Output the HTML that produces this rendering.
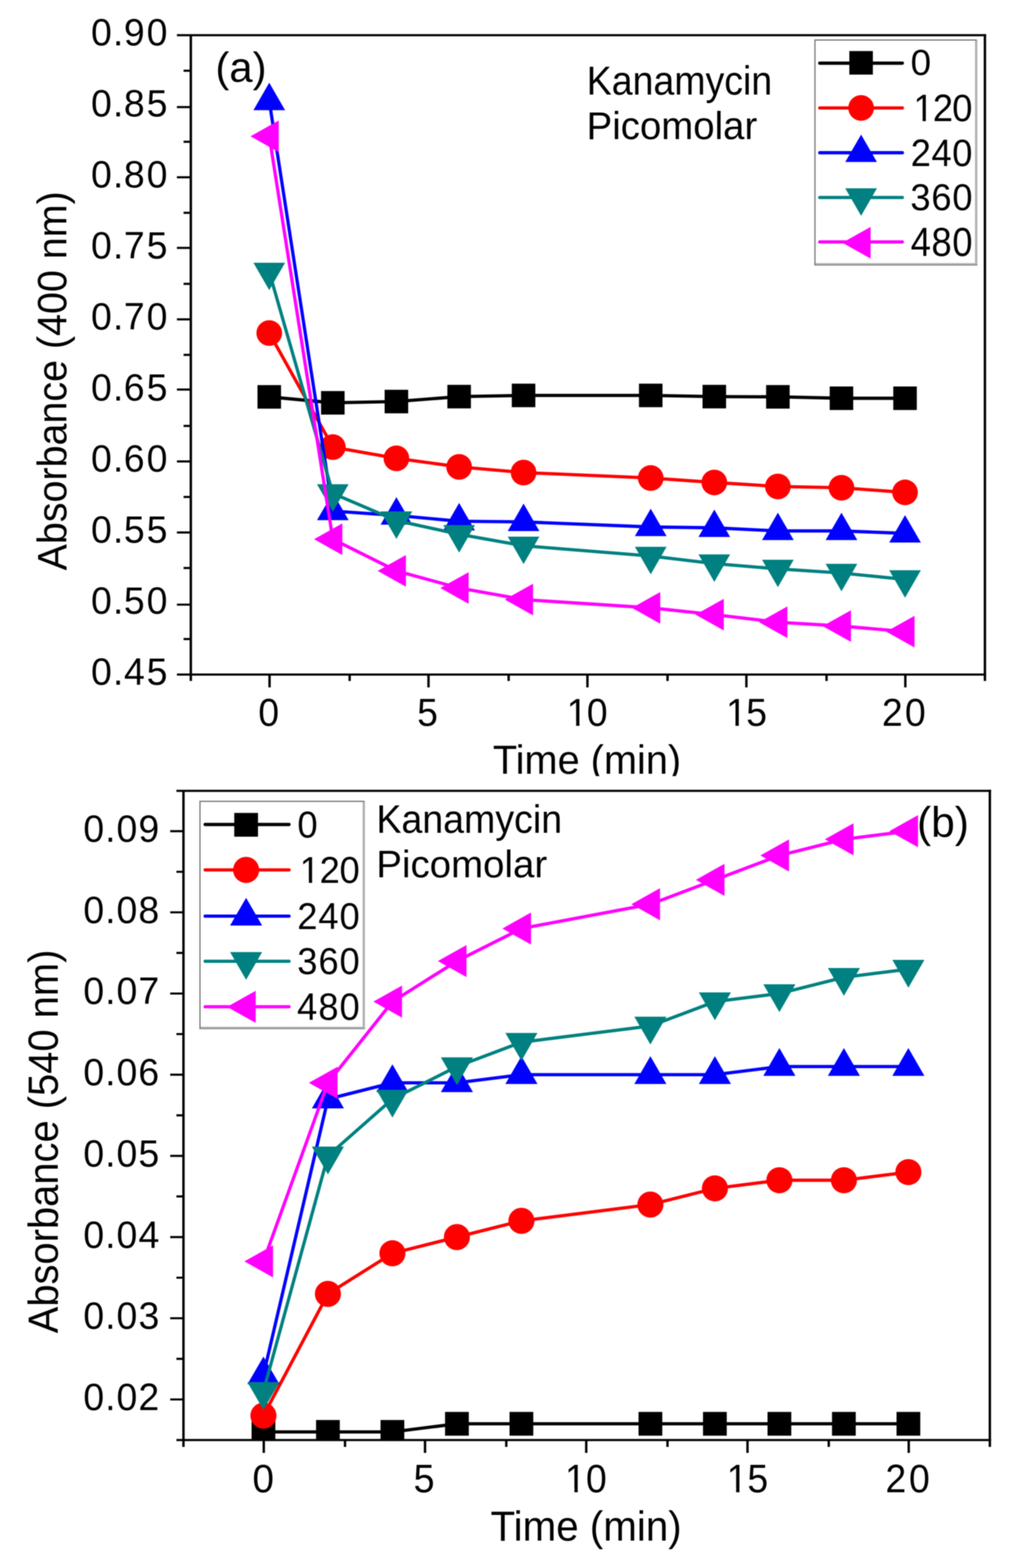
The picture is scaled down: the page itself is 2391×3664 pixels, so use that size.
<!DOCTYPE html>
<html lang="en">
<head>
<meta charset="utf-8">
<title>Kanamycin absorbance vs time</title>
<style>
html,body{margin:0;padding:0;background:#fff;}
body{width:2391px;height:3664px;}
svg{display:block;}
text{font-family:"Liberation Sans",sans-serif;font-size:100px;fill:#000;white-space:pre;}
</style>
</head>
<body>
<svg width="2391" height="3664" viewBox="0 0 2391 3664">
<defs><filter id="soft" filterUnits="userSpaceOnUse" x="0" y="0" width="2391" height="3664" color-interpolation-filters="sRGB"><feGaussianBlur stdDeviation="1.2"/></filter></defs>
<g filter="url(#soft)">
<rect x="-20" y="-20" width="2431" height="3704" fill="#fff"/>
<g id="panel-a">
<clipPath id="clipa"><rect x="446" y="82.2" width="1856" height="1494.0"/></clipPath>
<g clip-path="url(#clipa)">
<polyline fill="none" stroke="#000000" stroke-width="7.6" stroke-linejoin="round" points="629.3,927.4 777.9,941.3 926.5,938.3 1073.1,926.8 1223.7,924.0 1520.9,924.0 1669.5,926.8 1818.1,927.3 1966.7,930.6 2115.3,930.6"/>
<rect x="601.8" y="899.9" width="55.0" height="55.0" fill="#000000"/>
<rect x="750.4" y="913.8" width="55.0" height="55.0" fill="#000000"/>
<rect x="899.0" y="910.8" width="55.0" height="55.0" fill="#000000"/>
<rect x="1045.6" y="899.3" width="55.0" height="55.0" fill="#000000"/>
<rect x="1196.2" y="896.5" width="55.0" height="55.0" fill="#000000"/>
<rect x="1493.4" y="896.5" width="55.0" height="55.0" fill="#000000"/>
<rect x="1642.0" y="899.3" width="55.0" height="55.0" fill="#000000"/>
<rect x="1790.6" y="899.8" width="55.0" height="55.0" fill="#000000"/>
<rect x="1939.2" y="903.1" width="55.0" height="55.0" fill="#000000"/>
<rect x="2087.8" y="903.1" width="55.0" height="55.0" fill="#000000"/>
<polyline fill="none" stroke="#ff0000" stroke-width="7.6" stroke-linejoin="round" points="629.3,778.2 777.9,1044.7 926.5,1071.0 1073.1,1091.0 1223.7,1104.2 1520.9,1117.0 1669.5,1127.4 1818.1,1136.7 1966.7,1139.8 2115.3,1150.6"/>
<circle cx="629.3" cy="778.2" r="30.0" fill="#ff0000"/>
<circle cx="777.9" cy="1044.7" r="30.0" fill="#ff0000"/>
<circle cx="926.5" cy="1071.0" r="30.0" fill="#ff0000"/>
<circle cx="1073.1" cy="1091.0" r="30.0" fill="#ff0000"/>
<circle cx="1223.7" cy="1104.2" r="30.0" fill="#ff0000"/>
<circle cx="1520.9" cy="1117.0" r="30.0" fill="#ff0000"/>
<circle cx="1669.5" cy="1127.4" r="30.0" fill="#ff0000"/>
<circle cx="1818.1" cy="1136.7" r="30.0" fill="#ff0000"/>
<circle cx="1966.7" cy="1139.8" r="30.0" fill="#ff0000"/>
<circle cx="2115.3" cy="1150.6" r="30.0" fill="#ff0000"/>
<polyline fill="none" stroke="#0000ff" stroke-width="7.6" stroke-linejoin="round" points="629.3,236.0 777.9,1194.2 926.5,1204.5 1073.1,1218.0 1223.7,1219.5 1520.9,1231.4 1669.5,1233.4 1818.1,1240.6 1966.7,1240.6 2115.3,1246.4"/>
<polygon points="629.3,193.3 592.3,257.4 666.3,257.4" fill="#0000ff"/>
<polygon points="777.9,1151.5 740.9,1215.6 814.9,1215.6" fill="#0000ff"/>
<polygon points="926.5,1161.8 889.5,1225.9 963.5,1225.9" fill="#0000ff"/>
<polygon points="1073.1,1175.3 1036.1,1239.4 1110.1,1239.4" fill="#0000ff"/>
<polygon points="1223.7,1176.8 1186.7,1240.9 1260.7,1240.9" fill="#0000ff"/>
<polygon points="1520.9,1188.7 1483.9,1252.8 1557.9,1252.8" fill="#0000ff"/>
<polygon points="1669.5,1190.7 1632.5,1254.8 1706.5,1254.8" fill="#0000ff"/>
<polygon points="1818.1,1197.9 1781.1,1262.0 1855.1,1262.0" fill="#0000ff"/>
<polygon points="1966.7,1197.9 1929.7,1262.0 2003.7,1262.0" fill="#0000ff"/>
<polygon points="2115.3,1203.7 2078.3,1267.8 2152.3,1267.8" fill="#0000ff"/>
<polyline fill="none" stroke="#008080" stroke-width="7.6" stroke-linejoin="round" points="629.3,635.3 777.9,1153.0 926.5,1216.5 1073.1,1248.5 1223.7,1275.3 1520.9,1299.2 1669.5,1317.0 1818.1,1329.3 1966.7,1339.0 2115.3,1354.0"/>
<polygon points="629.3,678.0 592.3,613.9 666.3,613.9" fill="#008080"/>
<polygon points="777.9,1195.7 740.9,1131.6 814.9,1131.6" fill="#008080"/>
<polygon points="926.5,1259.2 889.5,1195.1 963.5,1195.1" fill="#008080"/>
<polygon points="1073.1,1291.2 1036.1,1227.1 1110.1,1227.1" fill="#008080"/>
<polygon points="1223.7,1318.0 1186.7,1253.9 1260.7,1253.9" fill="#008080"/>
<polygon points="1520.9,1341.9 1483.9,1277.8 1557.9,1277.8" fill="#008080"/>
<polygon points="1669.5,1359.7 1632.5,1295.6 1706.5,1295.6" fill="#008080"/>
<polygon points="1818.1,1372.0 1781.1,1307.9 1855.1,1307.9" fill="#008080"/>
<polygon points="1966.7,1381.7 1929.7,1317.6 2003.7,1317.6" fill="#008080"/>
<polygon points="2115.3,1396.7 2078.3,1332.6 2152.3,1332.6" fill="#008080"/>
<polyline fill="none" stroke="#ff00ff" stroke-width="7.6" stroke-linejoin="round" points="629.3,318.4 777.9,1260.0 926.5,1334.0 1073.1,1374.1 1223.7,1401.1 1520.9,1420.4 1669.5,1436.3 1818.1,1454.0 1966.7,1462.9 2115.3,1475.9"/>
<polygon points="585.4,318.4 651.5,281.4 651.5,355.4" fill="#ff00ff"/>
<polygon points="734.0,1260.0 800.1,1223.0 800.1,1297.0" fill="#ff00ff"/>
<polygon points="882.6,1334.0 948.7,1297.0 948.7,1371.0" fill="#ff00ff"/>
<polygon points="1029.2,1374.1 1095.3,1337.1 1095.3,1411.1" fill="#ff00ff"/>
<polygon points="1179.8,1401.1 1245.9,1364.1 1245.9,1438.1" fill="#ff00ff"/>
<polygon points="1477.0,1420.4 1543.1,1383.4 1543.1,1457.4" fill="#ff00ff"/>
<polygon points="1625.6,1436.3 1691.7,1399.3 1691.7,1473.3" fill="#ff00ff"/>
<polygon points="1774.2,1454.0 1840.3,1417.0 1840.3,1491.0" fill="#ff00ff"/>
<polygon points="1922.8,1462.9 1988.9,1425.9 1988.9,1499.9" fill="#ff00ff"/>
<polygon points="2071.4,1475.9 2137.5,1438.9 2137.5,1512.9" fill="#ff00ff"/>
</g>
<rect x="1904.8" y="93.5" width="376.0000000000002" height="523.5" fill="#fff"/>
<path fill="none" stroke="#b2b2b2" stroke-width="5.6" d="M2281.6000000000004,93.0 V619.8 M1903.3,617.6 H2284.4"/>
<path fill="none" stroke="#7c7c7c" stroke-width="3" d="M1904.8,619 V93.5 H2282.8"/>
<path fill="none" stroke="#8c8c8c" stroke-width="2.4" d="M1903.3,619.2 H2284.4"/>
<line x1="1916" y1="147.6" x2="2109" y2="147.6" stroke="#000000" stroke-width="7.6" stroke-linecap="round"/>
<rect x="1985.1" y="119.3" width="55.0" height="55.0" fill="#000000"/>
<text transform="matrix(0.8625 0 0 0.8549 2128.37 175.45)" >0</text>
<line x1="1916" y1="252.2" x2="2109" y2="252.2" stroke="#ff0000" stroke-width="7.6" stroke-linecap="round"/>
<circle cx="2012.6" cy="252.2" r="30.0" fill="#ff0000"/>
<text transform="matrix(0.8500 0 0 0.8873 2135.00 283.11)" style="letter-spacing:-2.324px" >120</text>
<path transform="matrix(0.8500 0 0 0.8873 2135.00 283.11)" fill="#fff" d="M3.00,-11H25.10V2.5H3.00ZM34.05,-11H54.00V2.5H34.05Z"/>
<line x1="1916" y1="356.9" x2="2109" y2="356.9" stroke="#0000ff" stroke-width="7.6" stroke-linecap="round"/>
<polygon points="2012.6,314.5 1975.6,378.6 2049.6,378.6" fill="#0000ff"/>
<text transform="matrix(0.8500 0 0 0.8944 2128.45 388.41)" style="letter-spacing:1.529px" >240</text>
<line x1="1916" y1="461.5" x2="2109" y2="461.5" stroke="#008080" stroke-width="7.6" stroke-linecap="round"/>
<polygon points="2012.6,504.2 1975.6,440.1 2049.6,440.1" fill="#008080"/>
<text transform="matrix(0.8500 0 0 0.8676 2127.81 491.33)" style="letter-spacing:2.022px" >360</text>
<line x1="1916" y1="565.2" x2="2109" y2="565.2" stroke="#ff00ff" stroke-width="7.6" stroke-linecap="round"/>
<polygon points="1968.7,567.3 2034.8,530.3 2034.8,604.3" fill="#ff00ff"/>
<text transform="matrix(0.8500 0 0 0.9394 2128.39 598.36)" style="letter-spacing:1.684px" >480</text>
<g stroke="#000" fill="none">
<path stroke-width="4.9" d="M413.5,82.2 H2304.8 M413.5,1576.2 H2304.8 M429.0,165.2 H446 M413.5,250.2 H446 M429.0,331.2 H446 M413.5,414.2 H446 M429.0,497.2 H446 M413.5,579.2 H446 M429.0,663.2 H446 M413.5,746.2 H446 M429.0,829.2 H446 M413.5,910.2 H446 M429.0,995.2 H446 M413.5,1078.2 H446 M429.0,1161.2 H446 M413.5,1244.2 H446 M429.0,1327.2 H446 M413.5,1412.9 H446 M429.0,1493.2 H446"/>
<path stroke-width="5.6" d="M446,82.2 V1591.2 M2302,79.8 V1591.2 M630.0,1576.2 V1606.2 M817.2,1576.2 V1591.2 M1001.5,1576.2 V1606.2 M1188.8,1576.2 V1591.2 M1373.0,1576.2 V1606.2 M1560.2,1576.2 V1591.2 M1744.5,1576.2 V1606.2 M1931.8,1576.2 V1591.2 M2116.0,1576.2 V1606.2"/>
</g>
<text transform="matrix(0.8750 0 0 0.8845 0 105.82)" x="243.22 301.67 330.88 391.68" >0.90</text>
<text transform="matrix(0.8750 0 0 0.8845 0 271.82)" x="243.22 301.67 330.88 391.68" >0.85</text>
<text transform="matrix(0.8750 0 0 0.8845 0 437.82)" x="243.22 301.67 330.88 391.68" >0.80</text>
<text transform="matrix(0.8750 0 0 0.8845 0 603.82)" x="243.22 301.67 330.75 391.68" >0.75</text>
<text transform="matrix(0.8750 0 0 0.8845 0 769.82)" x="243.22 301.67 330.75 391.68" >0.70</text>
<text transform="matrix(0.8750 0 0 0.8845 0 935.82)" x="243.22 301.67 330.50 391.68" >0.65</text>
<text transform="matrix(0.8750 0 0 0.8845 0 1101.82)" x="243.22 301.67 330.50 391.68" >0.60</text>
<text transform="matrix(0.8750 0 0 0.8845 0 1267.82)" x="243.22 301.67 330.88 391.68" >0.55</text>
<text transform="matrix(0.8750 0 0 0.8845 0 1433.82)" x="243.22 301.67 330.88 391.68" >0.50</text>
<text transform="matrix(0.8750 0 0 0.8845 0 1599.82)" x="243.22 301.67 331.13 391.68" >0.45</text>
<text transform="matrix(0.8729 0 0 0.9056 603.73 1695.99)" >0</text>
<text transform="matrix(0.8716 0 0 0.9056 974.91 1695.99)" >5</text>
<text transform="matrix(0.8750 0 0 0.9056 1324.60 1695.99)" style="letter-spacing:-1.900px" >10</text>
<path transform="matrix(0.8750 0 0 0.9056 1324.60 1695.99)" fill="#fff" d="M3.00,-11H25.10V2.5H3.00ZM34.05,-11H54.00V2.5H34.05Z"/>
<text transform="matrix(0.8750 0 0 0.9056 1697.00 1695.99)" style="letter-spacing:-1.764px" >15</text>
<path transform="matrix(0.8750 0 0 0.9056 1697.00 1695.99)" fill="#fff" d="M3.00,-11H25.10V2.5H3.00ZM34.05,-11H54.00V2.5H34.05Z"/>
<text transform="matrix(0.8750 0 0 0.9056 2061.22 1695.99)" style="letter-spacing:5.729px" >20</text>
<text transform="matrix(0.9285 0 0 0.9377 1151.94 1808.00)" >Time (min)</text>
<text transform="matrix(0 -0.9215 0.9565 0 155.00 1333.03)" >Absorbance (400 nm)</text>
<text transform="matrix(0.9778 0 0 0.9877 503.53 190.91)" >(a)</text>
<text transform="matrix(0.8762 0 0 0.9464 1371.29 220.80)" >Kanamycin</text>
<text transform="matrix(0.8970 0 0 0.9072 1371.12 325.10)" >Picomolar</text>
</g>
<rect x="0" y="1813.5" width="2391" height="1850.5" fill="#fff"/>
<g id="panel-b">
<clipPath id="clipb"><rect x="428.8" y="1848" width="1884.7" height="1517"/></clipPath>
<g clip-path="url(#clipb)">
<polyline fill="none" stroke="#000000" stroke-width="7.6" stroke-linejoin="round" points="615.7,3346.0 766.4,3346.0 917.2,3346.0 1067.9,3327.0 1218.7,3327.0 1520.1,3327.0 1670.9,3327.0 1821.6,3327.0 1972.4,3327.0 2123.1,3327.0"/>
<rect x="588.0" y="3318.2" width="55.5" height="55.5" fill="#000000"/>
<rect x="738.7" y="3318.2" width="55.5" height="55.5" fill="#000000"/>
<rect x="889.4" y="3318.2" width="55.5" height="55.5" fill="#000000"/>
<rect x="1040.2" y="3299.3" width="55.5" height="55.5" fill="#000000"/>
<rect x="1190.9" y="3299.3" width="55.5" height="55.5" fill="#000000"/>
<rect x="1492.4" y="3299.3" width="55.5" height="55.5" fill="#000000"/>
<rect x="1643.1" y="3299.3" width="55.5" height="55.5" fill="#000000"/>
<rect x="1793.9" y="3299.3" width="55.5" height="55.5" fill="#000000"/>
<rect x="1944.6" y="3299.3" width="55.5" height="55.5" fill="#000000"/>
<rect x="2095.4" y="3299.3" width="55.5" height="55.5" fill="#000000"/>
<polyline fill="none" stroke="#ff0000" stroke-width="7.6" stroke-linejoin="round" points="615.7,3308.0 766.4,3023.5 917.2,2928.6 1067.9,2890.7 1218.7,2852.8 1520.1,2814.8 1670.9,2776.9 1821.6,2757.9 1972.4,2757.9 2123.1,2738.9"/>
<circle cx="615.7" cy="3308.0" r="30.5" fill="#ff0000"/>
<circle cx="766.4" cy="3023.5" r="30.5" fill="#ff0000"/>
<circle cx="917.2" cy="2928.6" r="30.5" fill="#ff0000"/>
<circle cx="1067.9" cy="2890.7" r="30.5" fill="#ff0000"/>
<circle cx="1218.7" cy="2852.8" r="30.5" fill="#ff0000"/>
<circle cx="1520.1" cy="2814.8" r="30.5" fill="#ff0000"/>
<circle cx="1670.9" cy="2776.9" r="30.5" fill="#ff0000"/>
<circle cx="1821.6" cy="2757.9" r="30.5" fill="#ff0000"/>
<circle cx="1972.4" cy="2757.9" r="30.5" fill="#ff0000"/>
<circle cx="2123.1" cy="2738.9" r="30.5" fill="#ff0000"/>
<polyline fill="none" stroke="#0000ff" stroke-width="7.6" stroke-linejoin="round" points="615.7,3213.2 766.4,2568.2 917.2,2530.3 1067.9,2530.3 1218.7,2511.3 1520.1,2511.3 1670.9,2511.3 1821.6,2492.3 1972.4,2492.3 2123.1,2492.3"/>
<polygon points="615.7,3169.9 578.2,3234.8 653.2,3234.8" fill="#0000ff"/>
<polygon points="766.4,2524.9 728.9,2589.9 803.9,2589.9" fill="#0000ff"/>
<polygon points="917.2,2487.0 879.7,2551.9 954.7,2551.9" fill="#0000ff"/>
<polygon points="1067.9,2487.0 1030.4,2551.9 1105.4,2551.9" fill="#0000ff"/>
<polygon points="1218.7,2468.0 1181.2,2533.0 1256.2,2533.0" fill="#0000ff"/>
<polygon points="1520.1,2468.0 1482.6,2533.0 1557.6,2533.0" fill="#0000ff"/>
<polygon points="1670.9,2468.0 1633.4,2533.0 1708.4,2533.0" fill="#0000ff"/>
<polygon points="1821.6,2449.0 1784.1,2514.0 1859.1,2514.0" fill="#0000ff"/>
<polygon points="1972.4,2449.0 1934.9,2514.0 2009.9,2514.0" fill="#0000ff"/>
<polygon points="2123.1,2449.0 2085.6,2514.0 2160.6,2514.0" fill="#0000ff"/>
<polyline fill="none" stroke="#008080" stroke-width="7.6" stroke-linejoin="round" points="615.7,3251.1 766.4,2701.0 917.2,2568.2 1067.9,2492.3 1218.7,2435.4 1520.1,2397.5 1670.9,2340.6 1821.6,2321.6 1972.4,2283.7 2123.1,2264.7"/>
<polygon points="615.7,3294.4 578.2,3229.5 653.2,3229.5" fill="#008080"/>
<polygon points="766.4,2744.3 728.9,2679.3 803.9,2679.3" fill="#008080"/>
<polygon points="917.2,2611.5 879.7,2546.6 954.7,2546.6" fill="#008080"/>
<polygon points="1067.9,2535.6 1030.4,2470.7 1105.4,2470.7" fill="#008080"/>
<polygon points="1218.7,2478.7 1181.2,2413.8 1256.2,2413.8" fill="#008080"/>
<polygon points="1520.1,2440.8 1482.6,2375.8 1557.6,2375.8" fill="#008080"/>
<polygon points="1670.9,2383.9 1633.4,2318.9 1708.4,2318.9" fill="#008080"/>
<polygon points="1821.6,2364.9 1784.1,2299.9 1859.1,2299.9" fill="#008080"/>
<polygon points="1972.4,2327.0 1934.9,2262.0 2009.9,2262.0" fill="#008080"/>
<polygon points="2123.1,2308.0 2085.6,2243.0 2160.6,2243.0" fill="#008080"/>
<polyline fill="none" stroke="#ff00ff" stroke-width="7.6" stroke-linejoin="round" points="615.7,2947.6 766.4,2530.3 917.2,2340.6 1067.9,2245.7 1218.7,2169.8 1520.1,2112.9 1670.9,2056.0 1821.6,1999.1 1972.4,1961.2 2123.1,1942.2"/>
<polygon points="571.2,2947.6 638.1,2910.1 638.1,2985.1" fill="#ff00ff"/>
<polygon points="721.9,2530.3 788.9,2492.8 788.9,2567.8" fill="#ff00ff"/>
<polygon points="872.7,2340.6 939.6,2303.1 939.6,2378.1" fill="#ff00ff"/>
<polygon points="1023.4,2245.7 1090.4,2208.2 1090.4,2283.2" fill="#ff00ff"/>
<polygon points="1174.2,2169.8 1241.1,2132.3 1241.1,2207.3" fill="#ff00ff"/>
<polygon points="1475.6,2112.9 1542.6,2075.4 1542.6,2150.4" fill="#ff00ff"/>
<polygon points="1626.4,2056.0 1693.3,2018.5 1693.3,2093.5" fill="#ff00ff"/>
<polygon points="1777.1,1999.1 1844.1,1961.6 1844.1,2036.6" fill="#ff00ff"/>
<polygon points="1927.9,1961.2 1994.8,1923.7 1994.8,1998.7" fill="#ff00ff"/>
<polygon points="2078.6,1942.2 2145.6,1904.7 2145.6,1979.7" fill="#ff00ff"/>
</g>
<rect x="467.4" y="1872.5" width="382.1" height="529.0" fill="#fff"/>
<path fill="none" stroke="#b2b2b2" stroke-width="5.6" d="M850.3,1872.0 V2404.3 M465.9,2402.1 H853.1"/>
<path fill="none" stroke="#7c7c7c" stroke-width="3" d="M467.4,2403.5 V1872.5 H851.5"/>
<path fill="none" stroke="#8c8c8c" stroke-width="2.4" d="M465.9,2403.7 H853.1"/>
<line x1="479.5" y1="1926.6" x2="675.5" y2="1926.6" stroke="#000000" stroke-width="7.6" stroke-linecap="round"/>
<rect x="547.5" y="1899.6" width="55.5" height="55.5" fill="#000000"/>
<text transform="matrix(0.8542 0 0 0.8620 695.10 1957.34)" >0</text>
<line x1="479.5" y1="2032.8" x2="675.5" y2="2032.8" stroke="#ff0000" stroke-width="7.6" stroke-linecap="round"/>
<circle cx="575.2" cy="2032.8" r="30.5" fill="#ff0000"/>
<text transform="matrix(0.8500 0 0 0.8704 700.60 2063.23)" style="letter-spacing:-0.912px" >120</text>
<path transform="matrix(0.8500 0 0 0.8704 700.60 2063.23)" fill="#fff" d="M3.00,-11H25.10V2.5H3.00ZM34.05,-11H54.00V2.5H34.05Z"/>
<line x1="479.5" y1="2140.7" x2="675.5" y2="2140.7" stroke="#0000ff" stroke-width="7.6" stroke-linecap="round"/>
<polygon points="575.2,2097.9 537.7,2162.8 612.7,2162.8" fill="#0000ff"/>
<text transform="matrix(0.8500 0 0 0.8620 694.65 2171.04)" style="letter-spacing:2.588px" >240</text>
<line x1="479.5" y1="2246.3" x2="675.5" y2="2246.3" stroke="#008080" stroke-width="7.6" stroke-linecap="round"/>
<polygon points="575.2,2289.6 537.7,2224.7 612.7,2224.7" fill="#008080"/>
<text transform="matrix(0.8500 0 0 0.8676 694.81 2275.93)" style="letter-spacing:2.493px" >360</text>
<line x1="479.5" y1="2352.5" x2="675.5" y2="2352.5" stroke="#ff00ff" stroke-width="7.6" stroke-linecap="round"/>
<polygon points="530.7,2352.8 597.6,2315.3 597.6,2390.3" fill="#ff00ff"/>
<text transform="matrix(0.8500 0 0 0.8915 694.29 2382.51)" style="letter-spacing:2.801px" >480</text>
<g stroke="#000" fill="none">
<path stroke-width="4.9" d="M412.3,1848 H2316.3 M412.3,3365 H2316.3 M397.8,1942.2 H428.8 M412.3,2037.1 H428.8 M397.8,2131.9 H428.8 M412.3,2226.8 H428.8 M397.8,2321.6 H428.8 M412.3,2416.4 H428.8 M397.8,2511.3 H428.8 M412.3,2606.2 H428.8 M397.8,2701.0 H428.8 M412.3,2795.8 H428.8 M397.8,2890.7 H428.8 M412.3,2985.6 H428.8 M397.8,3080.4 H428.8 M412.3,3175.2 H428.8 M397.8,3270.1 H428.8"/>
<path stroke-width="5.6" d="M428.8,1848 V3381 M2313.5,1845.5 V3381 M616.5,3365 V3395.0 M806.4,3365 V3381.0 M993.4,3365 V3395.0 M1183.3,3365 V3381.0 M1370.2,3365 V3395.0 M1560.1,3365 V3381.0 M1747.1,3365 V3395.0 M1937.0,3365 V3381.0 M2123.9,3365 V3395.0"/>
</g>
<text transform="matrix(0.8750 0 0 0.8972 0 1967.00)" x="222.54 280.87 311.11 369.74" >0.09</text>
<text transform="matrix(0.8750 0 0 0.8972 0 2156.70)" x="222.54 280.87 311.11 369.74" >0.08</text>
<text transform="matrix(0.8750 0 0 0.8972 0 2346.40)" x="222.54 280.87 311.11 369.61" >0.07</text>
<text transform="matrix(0.8750 0 0 0.8972 0 2536.10)" x="222.54 280.87 311.11 369.36" >0.06</text>
<text transform="matrix(0.8750 0 0 0.8972 0 2725.80)" x="222.54 280.87 311.11 369.74" >0.05</text>
<text transform="matrix(0.8750 0 0 0.8972 0 2915.50)" x="222.54 280.87 311.11 369.99" >0.04</text>
<text transform="matrix(0.8750 0 0 0.8972 0 3105.20)" x="222.54 280.87 311.11 369.99" >0.03</text>
<text transform="matrix(0.8750 0 0 0.8972 0 3294.90)" x="222.54 280.87 311.11 369.61" >0.02</text>
<text transform="matrix(0.9062 0 0 0.9197 590.10 3486.68)" >0</text>
<text transform="matrix(0.8842 0 0 0.9197 966.46 3486.68)" >5</text>
<text transform="matrix(0.8750 0 0 0.9197 1320.60 3486.68)" style="letter-spacing:0.271px" >10</text>
<path transform="matrix(0.8750 0 0 0.9197 1320.60 3486.68)" fill="#fff" d="M3.00,-11H25.10V2.5H3.00ZM34.05,-11H54.00V2.5H34.05Z"/>
<text transform="matrix(0.8750 0 0 0.9197 1698.50 3486.68)" style="letter-spacing:-0.393px" >15</text>
<path transform="matrix(0.8750 0 0 0.9197 1698.50 3486.68)" fill="#fff" d="M3.00,-11H25.10V2.5H3.00ZM34.05,-11H54.00V2.5H34.05Z"/>
<text transform="matrix(0.8750 0 0 0.9197 2069.62 3486.68)" style="letter-spacing:7.214px" >20</text>
<text transform="matrix(0.9427 0 0 0.9739 1146.41 3600.20)" >Time (min)</text>
<text transform="matrix(0 -0.9324 0.9739 0 134.60 3115.53)" >Absorbance (540 nm)</text>
<text transform="matrix(0.9950 0 0 1.0005 2143.13 1955.74)" >(b)</text>
<text transform="matrix(0.8777 0 0 0.9188 879.68 1945.60)" >Kanamycin</text>
<text transform="matrix(0.8986 0 0 0.8971 879.51 2050.30)" >Picomolar</text>
</g>
</g>
</svg>
</body>
</html>
